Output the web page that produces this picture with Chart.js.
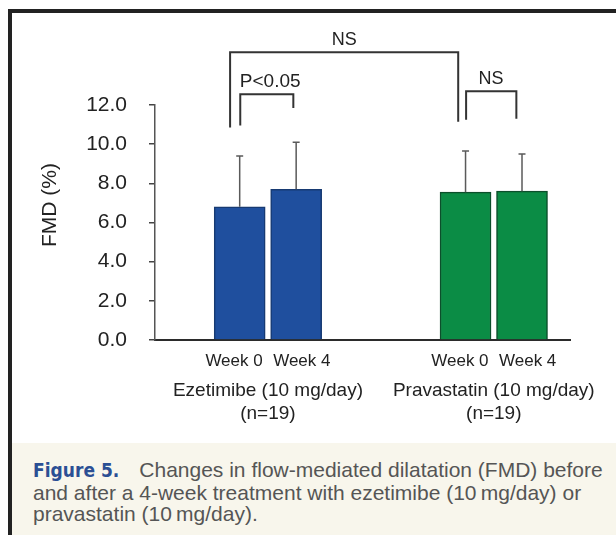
<!DOCTYPE html>
<html>
<head>
<meta charset="utf-8">
<script src="https://cdn.jsdelivr.net/npm/chart.js@4.4.1/dist/chart.umd.min.js"></script>
<style>
  html, body { margin: 0; padding: 0; background: #fff; }
  #page { position: relative; width: 616px; height: 535px; overflow: hidden; background: #fff; }
  #frameTop { position: absolute; left: 8px; top: 9px; width: 608px; height: 4px; background: #222; }
  #frameLeft { position: absolute; left: 8px; top: 9px; width: 4px; height: 526px; background: #222; }
  #capBox { position: absolute; left: 12px; top: 443px; width: 604px; height: 92px; background: #f8f6ec; }
  #caption { position: absolute; left: 33px; top: 459px; font: 21px/21.5px "Liberation Sans", Arial, sans-serif;
             color: #555; white-space: nowrap; }
  #caption b { font-family: "DejaVu Sans Condensed", "Liberation Sans Narrow", "Liberation Sans", sans-serif;
               font-weight: bold; font-size: 19px; color: #2b4f94; margin-right: 20px; }
  canvas { position: absolute; left: 0; top: 0; }
</style>
</head>
<body>
<div id="page">
  <div id="capBox"></div>
  <div id="frameTop"></div>
  <div id="frameLeft"></div>
  <div id="caption"><b>Figure 5.</b>Changes in flow-mediated dilatation (FMD) before<br>and after a 4-week treatment with ezetimibe (10&#8201;mg/day) or<br>pravastatin (10&#8201;mg/day).</div>
  <canvas id="chart" width="616" height="535"></canvas>
</div>
<script>
// Treatment groups and time points
const groups = ['Ezetimibe (10 mg/day)', 'Pravastatin (10 mg/day)'];
const groupSizes = ['(n=19)', '(n=19)'];
const timepoints = ['Week 0', 'Week 4'];

// FMD (%) mean and SD at each time point
const ezetimibeMean = [6.8, 7.7];
const ezetimibeSD = [2.6, 2.4];
const pravastatinMean = [7.55, 7.6];
const pravastatinSD = [2.1, 1.9];

// y-axis tick values
const yTicks = [0, 2, 4, 6, 8, 10, 12];

const FONT = '"Liberation Sans", Arial, sans-serif';
const groupFill = ['#1f4f9e', '#0b8c45'];
const groupBorder = ['#173a72', '#0c4f2b'];

// bar centres on the linear x scale: two bars per group, a gap of two slots between groups
const barX = (g, i) => 1.5 + g * 4 + i;

const series = [[ezetimibeMean, ezetimibeSD], [pravastatinMean, pravastatinSD]];
const points = [], sds = [], fills = [], borders = [], weekTicks = [];
series.forEach(([means, sd], g) => {
  means.forEach((v, i) => {
    points.push({ x: barX(g, i), y: v });
    sds.push(sd[i]);
    fills.push(groupFill[g]);
    borders.push(groupBorder[g]);
    // week labels sit slightly apart from each other under their bars
    weekTicks.push({ value: barX(g, i) + (i === 0 ? -0.1 : 0.1), label: timepoints[i] });
  });
});

const annotations = {
  id: 'annotations',
  afterDraw(chart, args, opts) {
    const ctx = chart.ctx;
    const xs = chart.scales.x, ys = chart.scales.y;
    const meta = chart.getDatasetMeta(0);

    // error bars (mean + SD)
    ctx.save();
    ctx.strokeStyle = '#5a5a5a';
    ctx.lineWidth = 1.5;
    meta.data.forEach((bar, k) => {
      const yTop = ys.getPixelForValue(points[k].y + sds[k]);
      const yBase = ys.getPixelForValue(points[k].y);
      ctx.beginPath();
      ctx.moveTo(bar.x, yBase);
      ctx.lineTo(bar.x, yTop);
      ctx.moveTo(bar.x - 3.5, yTop);
      ctx.lineTo(bar.x + 3.5, yTop);
      ctx.stroke();
    });
    ctx.restore();

    // significance brackets
    ctx.save();
    ctx.strokeStyle = '#333';
    ctx.lineWidth = 2;
    ctx.fillStyle = '#222';
    ctx.textAlign = 'center';
    ctx.textBaseline = 'alphabetic';
    opts.brackets.forEach(b => {
      const x1 = xs.getPixelForValue(b.from), x2 = xs.getPixelForValue(b.to);
      const yt = ys.getPixelForValue(b.top);
      ctx.beginPath();
      ctx.moveTo(x1, ys.getPixelForValue(b.leftDrop));
      ctx.lineTo(x1, yt);
      ctx.lineTo(x2, yt);
      ctx.lineTo(x2, ys.getPixelForValue(b.rightDrop));
      ctx.stroke();
      ctx.font = b.size + 'px ' + FONT;
      ctx.fillText(b.label, xs.getPixelForValue(b.labelX), yt - 7);
    });
    ctx.restore();

    // group names under the week labels
    ctx.save();
    ctx.fillStyle = '#222';
    ctx.textAlign = 'center';
    ctx.textBaseline = 'alphabetic';
    ctx.font = '19px ' + FONT;
    groups.forEach((name, g) => {
      const cx = xs.getPixelForValue((barX(g, 0) + barX(g, 1)) / 2);
      ctx.fillText(name, cx, 396);
      ctx.fillText(groupSizes[g], cx, 419);
    });
    ctx.restore();

    // y-axis title
    ctx.save();
    ctx.fillStyle = '#222';
    ctx.font = '21px ' + FONT;
    ctx.textAlign = 'center';
    ctx.textBaseline = 'middle';
    ctx.translate(50, 205);
    ctx.rotate(-Math.PI / 2);
    ctx.fillText('FMD (%)', 0, 0);
    ctx.restore();
  }
};

new Chart(document.getElementById('chart'), {
  type: 'bar',
  data: {
    datasets: [{
      data: points,
      backgroundColor: fills,
      borderColor: borders,
      borderWidth: 1.5,
      barThickness: 51
    }]
  },
  options: {
    responsive: false,
    animation: false,
    devicePixelRatio: 1,
    layout: { padding: { top: 105, right: 46, left: 0, bottom: 0 } },
    plugins: {
      legend: { display: false },
      tooltip: { enabled: false },
      annotations: {
        brackets: [
          { from: 1.33, to: 5.37, top: 14.7, leftDrop: 10.85, rightDrop: 11.15, label: 'NS', labelX: 3.35, size: 18 },
          { from: 1.51, to: 2.45, top: 12.55, leftDrop: 10.95, rightDrop: 11.85, label: 'P<0.05', labelX: 2.04, size: 19 },
          { from: 5.51, to: 6.40, top: 12.7, leftDrop: 11.25, rightDrop: 11.3, label: 'NS', labelX: 5.95, size: 18 }
        ]
      }
    },
    scales: {
      x: {
        type: 'linear',
        min: 0,
        max: 7.35,
        offset: false,
        grid: { display: false, offset: false, drawTicks: false },
        border: { display: true, color: '#2b2b2b', width: 2 },
        afterBuildTicks: s => { s.ticks = weekTicks.map(t => ({ value: t.value })); },
        afterFit: s => { s.height = 195; },
        ticks: {
          autoSkip: false,
          maxRotation: 0,
          padding: 11,
          color: '#222',
          font: { size: 17, family: FONT },
          callback: (v, i) => weekTicks[i].label
        }
      },
      y: {
        min: 0,
        max: 12,
        afterBuildTicks: s => { s.ticks = yTicks.map(v => ({ value: v })); },
        afterFit: s => { s.width = 155; },
        grid: { display: true, drawOnChartArea: false, drawTicks: true, tickLength: 6, color: '#444', lineWidth: 1.5 },
        border: { display: true, color: '#555', width: 1.5 },
        ticks: {
          padding: 22,
          color: '#222',
          font: { size: 21, family: FONT },
          callback: v => v.toFixed(1)
        }
      }
    }
  },
  plugins: [annotations]
});
</script>
</body>
</html>
